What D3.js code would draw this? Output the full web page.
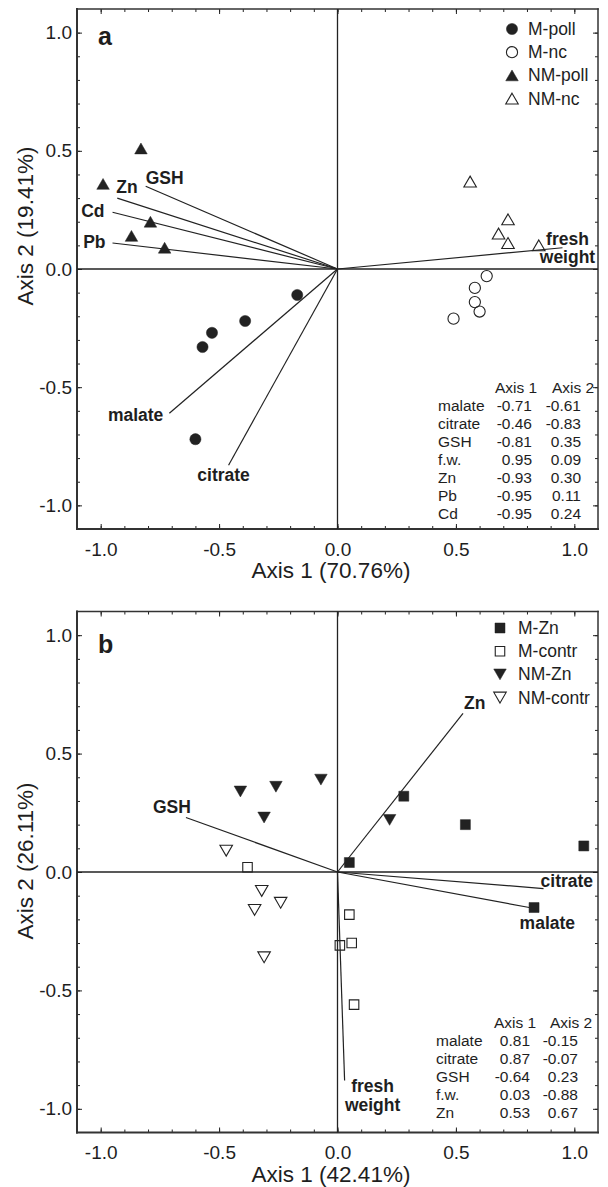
<!DOCTYPE html>
<html>
  <head>
    <style>
      html,
      body { margin: 0; background: #fff; }
      svg { display: block; }
      text { font-family: "Liberation Sans", Arial, sans-serif; fill: #1e1e1e; }
    </style>
    <script src="https://d3js.org/d3.v7.js"></script>
  </head>
  <body>
    <svg class="chart"></svg>

    <script>
      const width = 608;
      const height = 1187;

      // panel a: sample scores [axis 1, axis 2]
      const mPoll = [[-0.17, -0.11], [-0.39, -0.22], [-0.53, -0.27], [-0.57, -0.33], [-0.60, -0.72]];
      const mNc = [[0.63, -0.03], [0.58, -0.08], [0.58, -0.14], [0.60, -0.18], [0.49, -0.21]];
      const nmPoll = [[-0.83, 0.51], [-0.99, 0.36], [-0.79, 0.20], [-0.87, 0.14], [-0.73, 0.09]];
      const nmNc = [[0.56, 0.37], [0.72, 0.21], [0.68, 0.15], [0.72, 0.11], [0.85, 0.10]];

      // panel a: loadings
      const varsA = ['malate', 'citrate', 'GSH', 'f.w.', 'Zn', 'Pb', 'Cd'];
      const axis1A = [-0.71, -0.46, -0.81, 0.95, -0.93, -0.95, -0.95];
      const axis2A = [-0.61, -0.83, 0.35, 0.09, 0.30, 0.11, 0.24];

      // panel b: sample scores
      const mZn = [[0.05, 0.04], [0.28, 0.32], [0.54, 0.20], [1.04, 0.11], [0.83, -0.15]];
      const mContr = [[-0.38, 0.02], [0.05, -0.18], [0.01, -0.31], [0.06, -0.30], [0.07, -0.56]];
      const nmZn = [[-0.41, 0.34], [-0.26, 0.36], [-0.31, 0.23], [-0.07, 0.39], [0.22, 0.22]];
      const nmContr = [[-0.47, 0.09], [-0.32, -0.08], [-0.35, -0.16], [-0.24, -0.13], [-0.31, -0.36]];

      // panel b: loadings
      const varsB = ['malate', 'citrate', 'GSH', 'f.w.', 'Zn'];
      const axis1B = [0.81, 0.87, -0.64, 0.03, 0.53];
      const axis2B = [-0.15, -0.07, 0.23, -0.88, 0.67];

      const majorTicks = [-1, -0.5, 0, 0.5, 1];
      const minorTicks = d3.range(-10, 11).map((d) => d / 10);

      const ink = '#222';

      // triangles centred on their bounding box
      const triUp = {
        draw(ctx, size) {
          const s = Math.sqrt(size / (Math.sqrt(3) / 4));
          const h = s * Math.sqrt(3) / 2;
          ctx.moveTo(0, -h / 2);
          ctx.lineTo(s / 2, h / 2);
          ctx.lineTo(-s / 2, h / 2);
          ctx.closePath();
        }
      };
      const triDown = {
        draw(ctx, size) {
          const s = Math.sqrt(size / (Math.sqrt(3) / 4));
          const h = s * Math.sqrt(3) / 2;
          ctx.moveTo(0, h / 2);
          ctx.lineTo(s / 2, -h / 2);
          ctx.lineTo(-s / 2, -h / 2);
          ctx.closePath();
        }
      };

      const svg = d3.select('svg')
        .attr('width', width)
        .attr('height', height);

      const drawPanel = (p) => {
        const g = svg.append('g');
        const x = d3.scaleLinear().domain([-1.1, 1.1]).range([77, 598]);
        const y = d3.scaleLinear().domain([-1.1, 1.1]).range([p.bottom, p.top]);
        const [x0, x1] = x.range();

        // ticks, all pointing inward
        const tick = (axis, tr, values, size, labels) => {
          const a = g.append('g')
            .attr('transform', tr)
            .call(axis.tickValues(values).tickSize(size)
              .tickPadding(labels ? (axis === 'b' ? 0 : 0) : 0)
              .tickFormat(labels ? (d) => d.toFixed(1) : ''));
          a.select('.domain').remove();
          a.selectAll('line').attr('stroke', ink).attr('stroke-width', 1);
          a.selectAll('text').style('font-size', '19px').attr('fill', ink);
          return a;
        };
        tick(d3.axisLeft(y), `translate(${x0},0)`, minorTicks, -3, false);
        tick(d3.axisLeft(y).tickPadding(5), `translate(${x0},0)`, majorTicks, -5, true);
        tick(d3.axisRight(y), `translate(${x1},0)`, minorTicks, -3, false);
        tick(d3.axisRight(y), `translate(${x1},0)`, majorTicks, -5, false);
        tick(d3.axisBottom(x).tickPadding(13.5), `translate(0,${p.bottom})`, minorTicks, -3, false);
        const bt = tick(d3.axisBottom(x), `translate(0,${p.bottom})`, majorTicks, -5, true);
        bt.selectAll('text').attr('y', 13.5);
        g.selectAll('.tick text').filter(function () { return this.parentNode.parentNode !== bt.node(); })
          .attr('x', -5);
        tick(d3.axisTop(x), `translate(0,${p.top})`, minorTicks, -3, false);
        tick(d3.axisTop(x), `translate(0,${p.top})`, majorTicks, -5, false);

        // frame
        const frame = [
          [x0, p.top, x1, p.top, 1.5],
          [x1, p.top, x1, p.bottom, 1.5],
          [x0, p.top, x0, p.bottom, 2],
          [x0, p.bottom, x1, p.bottom, 2],
        ];
        g.selectAll('line.frame')
          .data(frame)
          .join('line')
          .attr('class', 'frame')
          .attr('x1', (d) => d[0]).attr('y1', (d) => d[1])
          .attr('x2', (d) => d[2]).attr('y2', (d) => d[3])
          .attr('stroke', '#333')
          .attr('stroke-width', (d) => d[4])
          .attr('stroke-linecap', 'square');

        // zero lines
        g.append('line')
          .attr('x1', x(0)).attr('x2', x(0))
          .attr('y1', p.top).attr('y2', p.bottom)
          .attr('stroke', ink).attr('stroke-width', 1.3);
        g.append('line')
          .attr('x1', x0).attr('x2', x1)
          .attr('y1', y(0)).attr('y2', y(0))
          .attr('stroke', ink).attr('stroke-width', 1.3);

        // loading vectors
        const vecs = p.vars.map((v, i) => ({ name: v, a1: p.axis1[i], a2: p.axis2[i] }));
        g.selectAll('line.vec')
          .data(vecs)
          .join('line')
          .attr('class', 'vec')
          .attr('x1', x(0)).attr('y1', y(0))
          .attr('x2', (d) => x(d.a1)).attr('y2', (d) => y(d.a2))
          .attr('stroke', ink).attr('stroke-width', 1.2);

        vecs.forEach((d) => {
          const l = p.labels[d.name];
          const lines = d.name === 'f.w.' ? ['fresh', 'weight'] : [d.name];
          lines.forEach((t, k) => {
            g.append('text')
              .attr('x', x(d.a1) + l.dx)
              .attr('y', y(d.a2) + l.dy + k * 18.5)
              .attr('text-anchor', l.anchor)
              .style('font-size', '17.5px')
              .style('font-weight', 'bold')
              .text(t);
          });
        });

        // sample points
        p.series.forEach((s) => {
          const sym = d3.symbol().type(s.shape).size(s.size);
          g.selectAll(null)
            .data(s.data)
            .join('path')
            .attr('transform', (d) => `translate(${x(d[0])},${y(d[1])})`)
            .attr('d', sym)
            .attr('fill', s.filled ? ink : 'none')
            .attr('stroke', ink)
            .attr('stroke-width', s.filled ? 0.5 : 1.1);
        });

        // legend
        p.series.forEach((s, i) => {
          const cy = p.legend.y + i * 23.2;
          g.append('path')
            .attr('transform', `translate(${p.legend.mx},${cy - 6})`)
            .attr('d', d3.symbol().type(s.shape).size(s.size))
            .attr('fill', s.filled ? ink : 'none')
            .attr('stroke', ink)
            .attr('stroke-width', s.filled ? 0.5 : 1.1);
          g.append('text')
            .attr('x', p.legend.tx)
            .attr('y', cy)
            .style('font-size', '17.5px')
            .text(s.name);
        });

        // panel letter
        g.append('text')
          .attr('x', 98)
          .attr('y', p.top + p.letterY)
          .style('font-size', '25px')
          .style('font-weight', 'bold')
          .text(p.letter);

        // axis titles
        g.append('text')
          .attr('x', 331)
          .attr('y', p.bottom + 49)
          .attr('text-anchor', 'middle')
          .style('font-size', '22.5px')
          .text(p.xTitle);
        g.append('text')
          .attr('transform', `translate(33,${p.yTitleY}) rotate(-90)`)
          .attr('text-anchor', 'middle')
          .style('font-size', '22.5px')
          .text(p.yTitle);

        // loadings table
        const t = p.table;
        const tg = g.append('g').style('font-size', '15.5px');
        tg.append('text').attr('x', t.c1).attr('y', t.y).text('Axis 1');
        tg.append('text').attr('x', t.c2).attr('y', t.y).text('Axis 2');
        vecs.forEach((d, i) => {
          const ty = t.y + 18 * (i + 1);
          tg.append('text').attr('x', t.x).attr('y', ty).text(d.name);
          tg.append('text').attr('x', t.r1).attr('y', ty).attr('text-anchor', 'end').text(d.a1.toFixed(2));
          tg.append('text').attr('x', t.r2).attr('y', ty).attr('text-anchor', 'end').text(d.a2.toFixed(2));
        });
      };

      drawPanel({
        top: 9,
        bottom: 529,
        letter: 'a',
        letterY: 36,
        xTitle: 'Axis 1 (70.76%)',
        yTitle: 'Axis 2 (19.41%)',
        yTitleY: 226,
        vars: varsA,
        axis1: axis1A,
        axis2: axis2A,
        labels: {
          'malate': { dx: -6, dy: 8, anchor: 'end' },
          'citrate': { dx: -5, dy: 16, anchor: 'middle' },
          'GSH': { dx: 0, dy: -2, anchor: 'start' },
          'f.w.': { dx: 5, dy: -3, anchor: 'middle' },
          'Zn': { dx: -1, dy: -5, anchor: 'start' },
          'Pb': { dx: -7, dy: 5, anchor: 'end' },
          'Cd': { dx: -8, dy: 5, anchor: 'end' },
        },
        series: [
          { name: 'M-poll', data: mPoll, shape: d3.symbolCircle, size: 98, filled: true },
          { name: 'M-nc', data: mNc, shape: d3.symbolCircle, size: 98, filled: false },
          { name: 'NM-poll', data: nmPoll, shape: triUp, size: 68, filled: true },
          { name: 'NM-nc', data: nmNc, shape: triUp, size: 68, filled: false },
        ],
        legend: { mx: 512, tx: 528, y: 35 },
        table: { x: 438, c1: 495, c2: 552, r1: 532, r2: 581, y: 393 },
      });

      drawPanel({
        top: 611.5,
        bottom: 1132.5,
        letter: 'b',
        letterY: 41.5,
        xTitle: 'Axis 1 (42.41%)',
        yTitle: 'Axis 2 (26.11%)',
        yTitleY: 861,
        vars: varsB,
        axis1: axis1B,
        axis2: axis2B,
        labels: {
          'malate': { dx: 18, dy: 21, anchor: 'middle' },
          'citrate': { dx: -3, dy: -2, anchor: 'start' },
          'GSH': { dx: 5, dy: -5, anchor: 'end' },
          'f.w.': { dx: 28, dy: 12, anchor: 'middle' },
          'Zn': { dx: 1, dy: -4, anchor: 'start' },
        },
        series: [
          { name: 'M-Zn', data: mZn, shape: d3.symbolSquare, size: 100, filled: true },
          { name: 'M-contr', data: mContr, shape: d3.symbolSquare, size: 90, filled: false },
          { name: 'NM-Zn', data: nmZn, shape: triDown, size: 68, filled: true },
          { name: 'NM-contr', data: nmContr, shape: triDown, size: 68, filled: false },
        ],
        legend: { mx: 500, tx: 518, y: 634 },
        table: { x: 436, c1: 494, c2: 550, r1: 530, r2: 578, y: 1028 },
      });
    </script>
  </body>
</html>
